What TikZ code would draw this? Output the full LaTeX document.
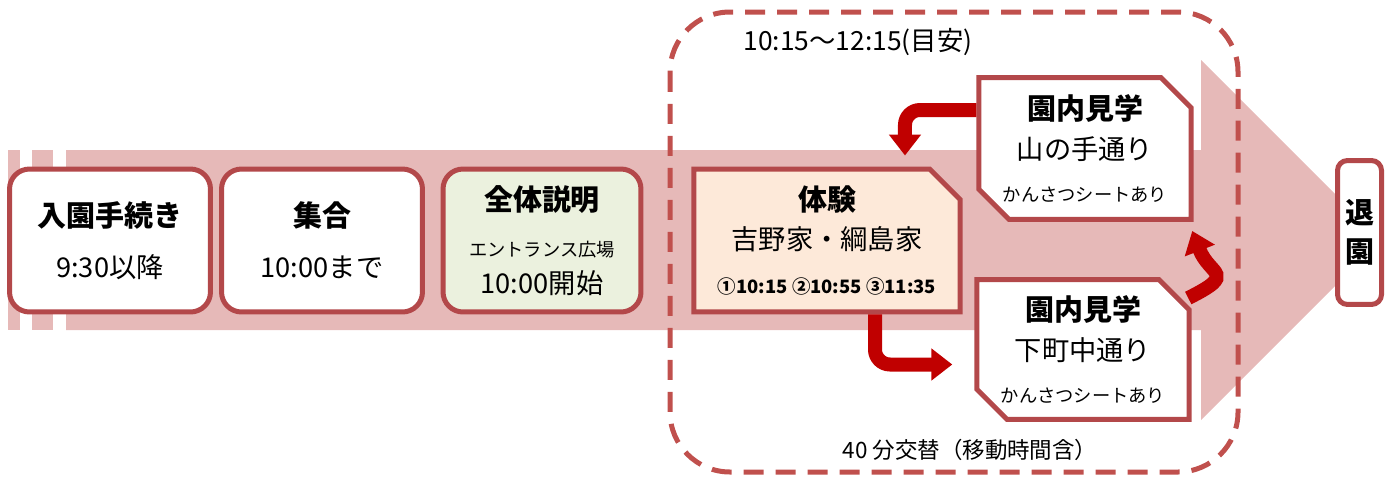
\documentclass[tikz,border=0pt]{standalone}
\usepackage{fontspec}
\setmainfont{Noto Sans CJK JP}
\usepackage{tikz}
\usetikzlibrary{arrows.meta, shapes.misc}

\definecolor{bandpink}{HTML}{E6B9B8}
\definecolor{boxred}{HTML}{B3484A}
\definecolor{dashred}{HTML}{C0504D}
\definecolor{arrowred}{HTML}{C00000}
\definecolor{greenfill}{HTML}{EBF1DE}
\definecolor{peachfill}{HTML}{FDE9D9}

\newcommand\boxhead{\fontsize{16.5}{18}\selectfont\bfseries}
\newcommand\boxnote{\fontsize{10.4}{12}\selectfont}
\newcommand\boxtime{\fontsize{10.5}{12}\selectfont\bfseries}

\begin{document}
\begin{tikzpicture}
        [x=0.02cm, y=-0.02cm,
         every node/.style={
             align=center,
             inner sep=0pt,
             font=\fontsize{15.5}{17}\selectfont
         },
         boxline/.style={
             draw=boxred,
             line width=0.1cm,
             fill=white,
             minimum width=4.02cm,
             minimum height=2.86cm
         },
         roundbox/.style={
             boxline,
             rounded corners=0.4cm
         },
         cutbox/.style={
             boxline,
             chamfered rectangle,
             chamfered rectangle xsep=0.48cm,
             chamfered rectangle corners={#1}
         },
         bigarrow/.style={
             arrowred,
             line width=0.28cm,
             rounded corners=0.3cm,
             -{Triangle[width=0.62cm, length=0.42cm]}
         }
         ]
        \useasboundingbox (0,0) rectangle (1392,477);

        \fill[bandpink] (8,150) rectangle (20,330);
        \fill[bandpink] (32,150) rectangle (53,330);
        \fill[bandpink] (66,150) -- (1201,150) -- (1201,60) -- (1381,240)
            -- (1201,420) -- (1201,330) -- (66,330) -- cycle;

        \draw[dashred, line width=0.1cm, rounded corners=1.2cm,
              dash pattern=on 0.4cm off 0.24cm] (670,12) rectangle (1238,472);
        \node (timespan) at (858,42) {\fontsize{15}{17}\selectfont 10:15～12:15(目安)};
        \node (rotation) at (970,450) {\fontsize{12.8}{14}\selectfont 40 分交替（移動時間含）};

        \node (entry) [roundbox] at (110,240.5)
            {{\boxhead 入園手続き}\\[12pt]9:30以降};
        \node (gather) [roundbox] at (322,240.5)
            {{\boxhead 集合}\\[12pt]10:00まで};
        \node (intro) [roundbox, fill=greenfill, minimum width=3.96cm] at (542,240.5)
            {{\boxhead 全体説明}\\[9pt]{\boxnote エントランス広場}\\[4pt]10:00開始};
        \node (taiken) [cutbox={north east}, fill=peachfill, minimum width=5.26cm] at (827,240.5)
            {{\boxhead 体験}\\[5pt]吉野家・綱島家\\[8pt]{\boxtime ①10:15 ②10:55 ③11:35}};
        \node (yama) [cutbox={north east, south west}, minimum width=4.18cm, minimum height=2.84cm] at (1085,148.5)
            {{\boxhead 園内見学}\\[6pt]山の手通り\\[7pt]{\boxnote かんさつシートあり}};
        \node (shita) [cutbox={north east, south west}, minimum width=4.04cm, minimum height=2.8cm] at (1083,349.5)
            {{\boxhead 園内見学}\\[6pt]下町中通り\\[7pt]{\boxnote かんさつシートあり}};
        \node (leave) [roundbox, rounded corners=0.2cm, minimum width=0.88cm, minimum height=2.88cm] at (1359.5,232.5)
            {\boxhead 退\\[5pt]\boxhead 園};

        \draw[bigarrow] ([yshift=-0.7cm]yama.north west) -| ([xshift=1.56cm, yshift=0.22cm]taiken.north);
        \draw[bigarrow] ([xshift=0.96cm]taiken.south) |- ([xshift=-0.44cm, yshift=-0.3cm]shita.west);
        \draw[bigarrow, rounded corners=0pt] ([xshift=-0.07cm, yshift=1.03cm]shita.east)
            .. controls +(1.0cm,0.5cm) and +(0.35cm,-0.9cm) .. ([xshift=-0.03cm, yshift=-0.18cm]yama.south east);
    \end{tikzpicture}
\end{document}
